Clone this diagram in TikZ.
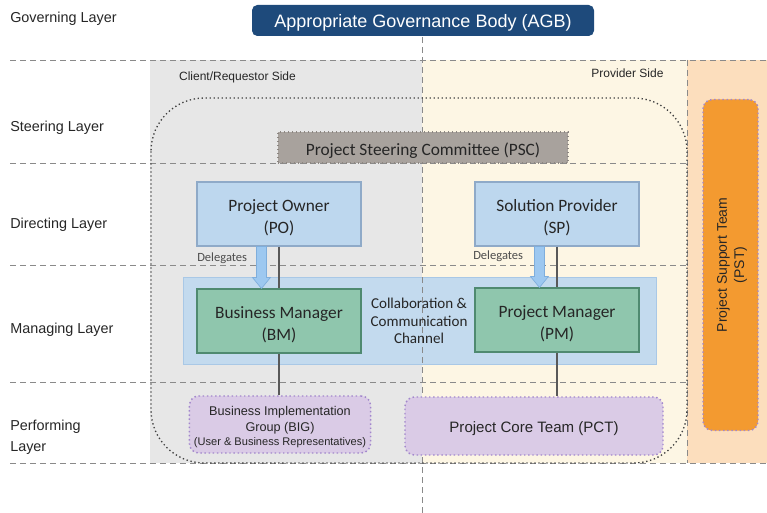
\documentclass[tikz,border=0pt]{standalone}
\usepackage{fontspec}
\setmainfont{Liberation Sans}
\newfontfamily\calfont{Carlito}
\usetikzlibrary{calc}
\newcommand\dnstrut[1]{\rule{0pt}{#1}}
\definecolor{bggray}{HTML}{E7E7E7}
\definecolor{bgcream}{HTML}{FDF6E4}
\definecolor{bgorange}{HTML}{FCDEBD}
\definecolor{agbblue}{HTML}{1E4A7B}
\definecolor{pscfill}{HTML}{A8A29D}
\definecolor{pscline}{HTML}{8C8681}
\definecolor{dirfill}{HTML}{BDD7EE}
\definecolor{dirline}{HTML}{8FAAC8}
\definecolor{chanfill}{HTML}{C3DAEE}
\definecolor{chanline}{HTML}{A9C8E6}
\definecolor{mgrfill}{HTML}{8FC6AD}
\definecolor{mgrline}{HTML}{4F8A70}
\definecolor{perffill}{HTML}{DACBE6}
\definecolor{perfline}{HTML}{A287CC}
\definecolor{pstfill}{HTML}{F39A30}
\definecolor{arrfill}{HTML}{9DC8F0}
\definecolor{arrline}{HTML}{7FAEDC}
\definecolor{dashgray}{HTML}{8A8A8A}
\definecolor{txt}{HTML}{262626}
\tikzset{
  layerlbl/.style={anchor=west,align=left,font=\fontsize{10.8}{15.8}\selectfont,text=txt,inner sep=0pt},
  sidelbl/.style={font=\fontsize{9}{11}\selectfont,text=txt,inner sep=0pt},
  guide/.style={dashgray,dash pattern=on 4.5pt off 3pt,line width=0.6pt},
  dirbox/.style={draw=dirline,fill=dirfill,line width=0.8pt,minimum width=164*0.75pt,minimum height=64*0.75pt,align=center,font=\calfont\fontsize{13}{16.5}\selectfont,text=txt},
  mgrbox/.style={draw=mgrline,fill=mgrfill,line width=0.8pt,minimum width=164*0.75pt,minimum height=64*0.75pt,align=center,font=\calfont\fontsize{13}{16.5}\selectfont,text=txt},
  perfbox/.style={draw=perfline,fill=perffill,line width=1.1pt,dotted,rounded corners=7pt,align=center,text=txt},
  delarrow/.style={draw=arrline,fill=arrfill,line width=0.5pt},
  link/.style={draw=black!65,line width=0.9pt},
  dellbl/.style={font=\calfont\fontsize{9.4}{11}\selectfont,text=black!70,inner sep=0pt,anchor=west}
}
\begin{document}
\begin{tikzpicture}[x=0.75pt,y=-0.75pt]
\useasboundingbox (0,0) rectangle (767,513);
% backgrounds
\fill[bggray] (150,60) rectangle (422,463);
\fill[bgcream] (422,60) rectangle (687,463);
\fill[bgorange] (687,60) rectangle (767,463);
% horizontal guides
\draw[guide] (10,60) -- (767,60);
\draw[guide] (10,163) -- (687,163);
\draw[guide] (10,265) -- (687,265);
\draw[guide] (10,382) -- (687,382);
\draw[guide] (10,463) -- (767,463);
\draw[guide] (687,60) -- (687,463);
% collaboration channel
\node[draw=chanline,fill=chanfill,line width=0.6pt,minimum width=473*0.75pt,minimum height=87*0.75pt,inner sep=0pt] (chan) at (419.5,320.5) {};
% vertical guide
\draw[guide] (422,37) -- (422,513);
% dotted outline
\draw[black!75,line width=1pt,dotted,rounded corners=40pt] (151,98) rectangle (687,463);
% layer labels
\node[layerlbl] (lg) at (10,19) {Governing Layer};
\node[layerlbl] (ls) at (10,128) {Steering Layer};
\node[layerlbl] (ld) at (10,225) {Directing Layer};
\node[layerlbl] (lm) at (10,330) {Managing Layer};
\node[layerlbl] (lp) at (10,437) {Performing\\Layer};
% side labels
\node[sidelbl] (cs) at (237.5,77) {Client/Requestor Side};
\node[sidelbl] (ps) at (627.5,73) {Provider Side};
% AGB
\node[fill=agbblue,rounded corners=4pt,minimum width=342*0.75pt,minimum height=31*0.75pt,text=white,font=\fontsize{13.5}{15}\selectfont] (agb) at (423,20.5) {\dnstrut{13.5pt}Appropriate Governance Body (AGB)};
% PSC
\node[fill=pscfill,draw=pscline,dotted,line width=1pt,minimum width=290*0.75pt,minimum height=31*0.75pt,font=\calfont\fontsize{13}{15}\selectfont,text=txt] (psc) at (423,147.5) {\dnstrut{13.5pt}Project Steering Committee (PSC)};
% directing
\node[dirbox] (po) at (279,214) {\dnstrut{14pt}Project Owner\\(PO)};
\node[dirbox] (sp) at (557,214) {\dnstrut{14pt}Solution Provider\\(SP)};
% managing
\node[mgrbox] (bm) at (279,321) {\dnstrut{14pt}Business Manager\\(BM)};
\node[mgrbox] (pm) at (557,320) {\dnstrut{14pt}Project Manager\\(PM)};
\node[align=center,font=\calfont\fontsize{11.3}{13.2}\selectfont,text=txt,inner sep=0pt] (chantxt) at (419,321) {Collaboration \&\\Communication\\Channel};
% performing
\node[perfbox,minimum width=178*0.75pt,minimum height=57*0.75pt,font=\fontsize{9.5}{12}\selectfont] (big) at (280,424.5) {\dnstrut{10.5pt}Business Implementation\\Group (BIG)\\[-1pt]{\fontsize{8.3}{10}\selectfont(User \& Business Representatives)}};
\node[perfbox,minimum width=258*0.75pt,minimum height=58*0.75pt,font=\fontsize{11.3}{13}\selectfont] (pct) at (534,426) {\dnstrut{12pt}Project Core Team (PCT)};
% PST
\node[perfbox,fill=pstfill,minimum width=55*0.75pt,minimum height=331*0.75pt] (pst) at (730.5,265) {};
\node[rotate=90,align=center,font=\fontsize{10.5}{13}\selectfont,text=txt] (psttxt) at ([xshift=1]pst.center) {Project Support Team\\(PST)};
% links
\draw[link] (po.south) -- (bm.north);
\draw[link] (bm.south) -- (bm.south |- big.north);
\draw[link] (sp.south) -- (pm.north);
\draw[link] (pm.south) -- (pm.south |- pct.north);
% delegation arrows
\draw[delarrow] ($(po.south west)+(60,0)$) -- ++(10,0) -- ($(bm.north west)+(70,-11)$) -- ++(4,0) -- ($(bm.north west)+(65,0)$) -- ($(bm.north west)+(56,-11)$) -- ++(4,0) -- cycle;
\draw[delarrow] ($(sp.south west)+(60,0)$) -- ++(10,0) -- ($(pm.north west)+(70,-11)$) -- ++(4,0) -- ($(pm.north west)+(65,0)$) -- ($(pm.north west)+(56,-11)$) -- ++(4,0) -- cycle;
\node[dellbl] (d1) at (197,258) {Delegates};
\node[dellbl] (d2) at (473,256) {Delegates};
\end{tikzpicture}
\end{document}
